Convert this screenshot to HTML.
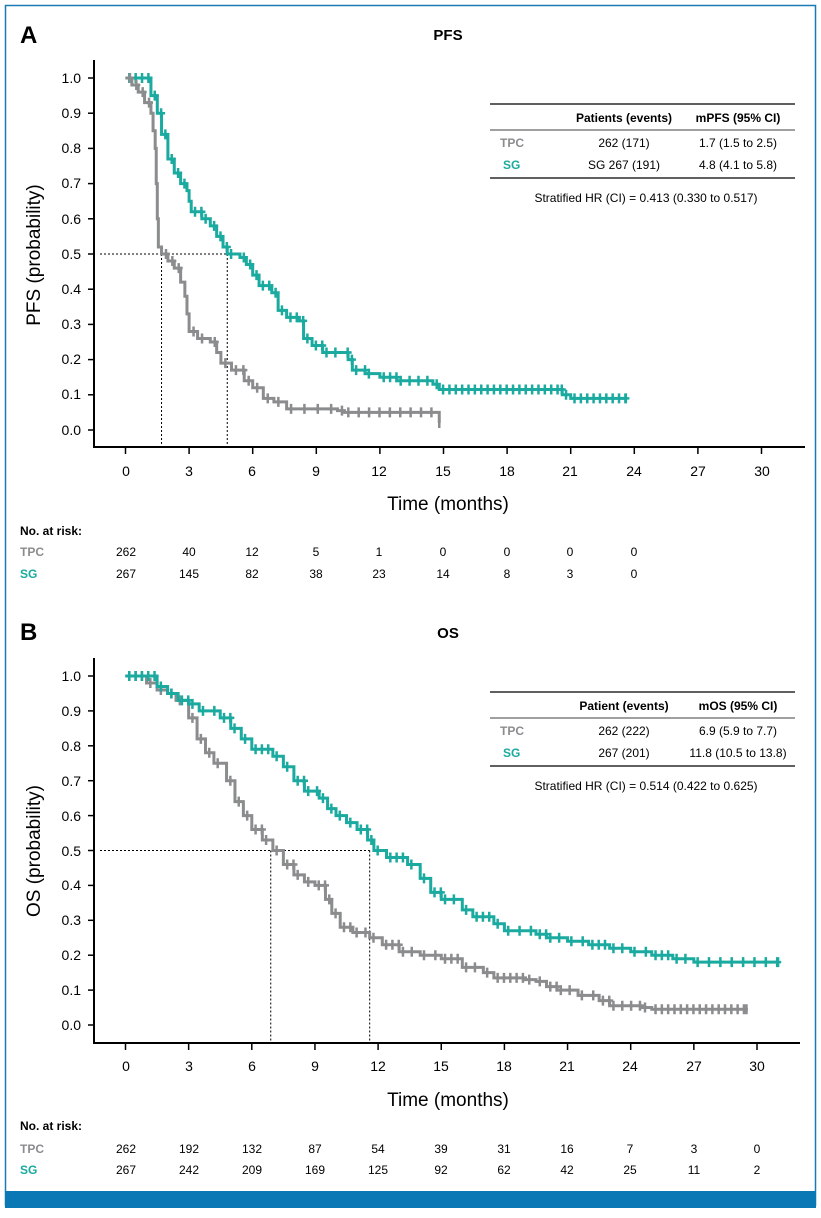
<!DOCTYPE html>
<html><head><meta charset="utf-8"><style>
body{margin:0;background:#fff;}
svg text{font-family:"Liberation Sans",Arial,sans-serif;}
</style></head><body>
<svg id="s" width="821" height="1213" xmlns="http://www.w3.org/2000/svg">
<rect x="5.5" y="5.5" width="810" height="1200" fill="none" stroke="#1a7ab5" stroke-width="1.5"/>
<rect x="5" y="1191" width="811" height="17" fill="#0a78b4"/>
<text x="20" y="43" font-size="24" font-weight="bold">A</text>
<text x="448" y="40" font-size="15" font-weight="bold" text-anchor="middle">PFS</text>
<text x="20" y="640" font-size="24" font-weight="bold">B</text>
<text x="448" y="638" font-size="15" font-weight="bold" text-anchor="middle">OS</text>
<g id="axes"></g>
<g id="curves"></g>
<!-- Table A -->
<g font-size="12">
<line x1="490" y1="104" x2="795" y2="104" stroke="#000" stroke-width="1.2"/>
<text x="624" y="122" text-anchor="middle" font-weight="bold">Patients (events)</text>
<text x="738" y="122" text-anchor="middle" font-weight="bold">mPFS (95% CI)</text>
<line x1="490" y1="130" x2="795" y2="130" stroke="#000" stroke-width="0.8"/>
<text x="500" y="147" font-weight="bold" fill="#8a8c8e">TPC</text>
<text x="624" y="147" text-anchor="middle">262 (171)</text>
<text x="738" y="147" text-anchor="middle">1.7 (1.5 to 2.5)</text>
<text x="503" y="169" font-weight="bold" fill="#1aaa9f">SG</text>
<text x="624" y="169" text-anchor="middle">SG 267 (191)</text>
<text x="738" y="169" text-anchor="middle">4.8 (4.1 to 5.8)</text>
<line x1="490" y1="178" x2="795" y2="178" stroke="#000" stroke-width="1.2"/>
<text x="646" y="202" text-anchor="middle">Stratified HR (CI) = 0.413 (0.330 to 0.517)</text>
</g>
<!-- Table B -->
<g font-size="12">
<line x1="490" y1="692" x2="795" y2="692" stroke="#000" stroke-width="1.2"/>
<text x="624" y="710" text-anchor="middle" font-weight="bold">Patient (events)</text>
<text x="738" y="710" text-anchor="middle" font-weight="bold">mOS (95% CI)</text>
<line x1="490" y1="718" x2="795" y2="718" stroke="#000" stroke-width="0.8"/>
<text x="500" y="735" font-weight="bold" fill="#8a8c8e">TPC</text>
<text x="624" y="735" text-anchor="middle">262 (222)</text>
<text x="738" y="735" text-anchor="middle">6.9 (5.9 to 7.7)</text>
<text x="503" y="757" font-weight="bold" fill="#1aaa9f">SG</text>
<text x="624" y="757" text-anchor="middle">267 (201)</text>
<text x="738" y="757" text-anchor="middle">11.8 (10.5 to 13.8)</text>
<line x1="490" y1="766" x2="795" y2="766" stroke="#000" stroke-width="1.2"/>
<text x="646" y="790" text-anchor="middle">Stratified HR (CI) = 0.514 (0.422 to 0.625)</text>
</g>
<text transform="translate(40,255) rotate(-90)" font-size="19" text-anchor="middle">PFS (probability)</text>
<text transform="translate(40,851) rotate(-90)" font-size="19" text-anchor="middle">OS (probability)</text>
<text x="448" y="510" font-size="19" text-anchor="middle">Time (months)</text>
<text x="448" y="1106" font-size="19" text-anchor="middle">Time (months)</text>
<g font-size="12">
<text x="20" y="535" font-weight="bold">No. at risk:</text>
<text x="20" y="556" font-weight="bold" fill="#8a8c8e">TPC</text>
<text x="20" y="578" font-weight="bold" fill="#1aaa9f">SG</text>
<g text-anchor="middle">
<text x="126" y="556">262</text><text x="189" y="556">40</text><text x="252" y="556">12</text><text x="316" y="556">5</text><text x="379" y="556">1</text><text x="443" y="556">0</text><text x="507" y="556">0</text><text x="570" y="556">0</text><text x="634" y="556">0</text>
<text x="126" y="578">267</text><text x="189" y="578">145</text><text x="252" y="578">82</text><text x="316" y="578">38</text><text x="379" y="578">23</text><text x="443" y="578">14</text><text x="507" y="578">8</text><text x="570" y="578">3</text><text x="634" y="578">0</text>
</g>
<text x="20" y="1130" font-weight="bold">No. at risk:</text>
<text x="20" y="1153" font-weight="bold" fill="#8a8c8e">TPC</text>
<text x="20" y="1174" font-weight="bold" fill="#1aaa9f">SG</text>
<g text-anchor="middle">
<text x="126" y="1153">262</text><text x="189" y="1153">192</text><text x="252" y="1153">132</text><text x="315" y="1153">87</text><text x="378" y="1153">54</text><text x="441" y="1153">39</text><text x="504" y="1153">31</text><text x="567" y="1153">16</text><text x="630" y="1153">7</text><text x="694" y="1153">3</text><text x="757" y="1153">0</text>
<text x="126" y="1174">267</text><text x="189" y="1174">242</text><text x="252" y="1174">209</text><text x="315" y="1174">169</text><text x="378" y="1174">125</text><text x="441" y="1174">92</text><text x="504" y="1174">62</text><text x="567" y="1174">42</text><text x="630" y="1174">25</text><text x="694" y="1174">11</text><text x="757" y="1174">2</text>
</g>
</g>
<g font-size="14" text-anchor="end">
<text x="81" y="83">1.0</text><text x="81" y="118">0.9</text><text x="81" y="153">0.8</text><text x="81" y="188">0.7</text><text x="81" y="224">0.6</text><text x="81" y="259">0.5</text><text x="81" y="294">0.4</text><text x="81" y="329">0.3</text><text x="81" y="364">0.2</text><text x="81" y="399">0.1</text><text x="81" y="435">0.0</text>
<text x="81" y="681">1.0</text><text x="81" y="716">0.9</text><text x="81" y="751">0.8</text><text x="81" y="786">0.7</text><text x="81" y="821">0.6</text><text x="81" y="856">0.5</text><text x="81" y="890">0.4</text><text x="81" y="925">0.3</text><text x="81" y="960">0.2</text><text x="81" y="995">0.1</text><text x="81" y="1030">0.0</text>
</g>
<g font-size="14" text-anchor="middle">
<text x="126" y="476">0</text><text x="189" y="476">3</text><text x="252" y="476">6</text><text x="316" y="476">9</text><text x="379" y="476">12</text><text x="443" y="476">15</text><text x="507" y="476">18</text><text x="570" y="476">21</text><text x="634" y="476">24</text><text x="698" y="476">27</text><text x="762" y="476">30</text>
<text x="126" y="1071">0</text><text x="189" y="1071">3</text><text x="252" y="1071">6</text><text x="315" y="1071">9</text><text x="378" y="1071">12</text><text x="441" y="1071">15</text><text x="504" y="1071">18</text><text x="567" y="1071">21</text><text x="630" y="1071">24</text><text x="694" y="1071">27</text><text x="757" y="1071">30</text>
</g>
</svg>
<script>
const NS="http://www.w3.org/2000/svg";
const ax=document.getElementById('axes'),cv=document.getElementById('curves');
function el(p,t,a){const e=document.createElementNS(NS,t);for(const k in a)e.setAttribute(k,a[k]);p.appendChild(e);return e;}
function panel(o){
 const X=t=>o.x0+t*o.dx, Y=p=>o.y0-p*o.dy;
 el(ax,'path',{d:`M94 ${o.top}V${o.axY}H${o.xend}`,fill:'none',stroke:'#000','stroke-width':2});
 for(let i=0;i<=10;i++){const y=Y(i/10);el(ax,'line',{x1:88,x2:94,y1:y,y2:y,stroke:'#000','stroke-width':1.5});}
 for(let t=0;t<=30;t+=3){const x=X(t);el(ax,'line',{x1:x,x2:x,y1:o.axY,y2:o.axY+7,stroke:'#000','stroke-width':1.5});}
 const dot={stroke:'#000','stroke-width':1,'stroke-dasharray':'2,2',fill:'none'};
 el(ax,'path',Object.assign({d:`M100 ${Y(.5)}H${X(o.m[1])}M${X(o.m[0])} ${Y(.5)}V${o.axY}M${X(o.m[1])} ${Y(.5)}V${o.axY}`},dot));
 for(const [data,col,cens] of o.series){
  let d=`M${X(data[0][0])} ${Y(data[0][1])}`;
  for(let i=1;i<data.length;i++){d+=`H${X(data[i][0])}V${Y(data[i][1])}`;}
  el(cv,'path',{d,fill:'none',stroke:col,'stroke-width':3});
  let marks='';
  for(let i=0;i<data.length-1;i++){
   const [t0,p]=data[i],t1=data[i+1][0];
   for(let t=t0+cens*0.6;t<t1;t+=cens*(1+((i*7)%3)*0.4)){marks+=`M${X(t)} ${Y(p)-5}v10M${X(t)-4} ${Y(p)}h8`;}
  }
  const l=data[data.length-1];marks+=`M${X(l[0])} ${Y(l[1])-5}v10`;
  el(cv,'path',{d:marks,stroke:col,'stroke-width':2.5,fill:'none'});
 }
}
const gray='#8a8c8e',teal='#1aaa9f';
panel({x0:125.5,dx:21.2,y0:430,dy:352,top:60,axY:447,xend:805,m:[1.7,4.8],series:[
 [[[0,1],[1.2,0.95],[1.5,0.9],[1.7,0.84],[2,0.77],[2.3,0.73],[2.6,0.7],[2.9,0.68],[3.0,0.65],[3.1,0.62],[3.6,0.6],[4.0,0.58],[4.3,0.55],[4.6,0.52],[4.8,0.5],[5.4,0.49],[5.7,0.47],[6.0,0.44],[6.3,0.41],[6.9,0.39],[7.2,0.34],[7.6,0.32],[8.2,0.31],[8.4,0.26],[8.8,0.24],[9.3,0.22],[10.3,0.22],[10.5,0.2],[10.7,0.17],[11.3,0.16],[12,0.15],[12.8,0.14],[14.5,0.13],[14.8,0.115],[20.4,0.115],[20.6,0.1],[21.0,0.09],[23.6,0.09]],teal,0.3],
 [[[0,1],[0.3,0.98],[0.6,0.96],[0.9,0.93],[1.2,0.9],[1.3,0.85],[1.4,0.8],[1.45,0.7],[1.5,0.6],[1.55,0.52],[1.7,0.5],[2.0,0.48],[2.3,0.46],[2.6,0.42],[2.8,0.38],[2.9,0.33],[3.0,0.28],[3.4,0.26],[4.0,0.25],[4.3,0.22],[4.5,0.19],[5.0,0.17],[5.6,0.14],[6.0,0.12],[6.5,0.09],[7.0,0.08],[7.6,0.06],[10,0.055],[10.3,0.05],[14.8,0.05],[14.8,0.02]],gray,0.35]
]});
panel({x0:125.5,dx:21.05,y0:1025,dy:349,top:658,axY:1043,xend:800,m:[6.9,11.6],series:[
 [[[0,1],[1,0.98],[1.5,0.96],[2,0.95],[2.4,0.93],[3,0.88],[3.4,0.82],[3.8,0.78],[4.2,0.75],[4.8,0.7],[5.2,0.64],[5.6,0.6],[6,0.56],[6.5,0.53],[7,0.5],[7.5,0.46],[8,0.43],[8.5,0.41],[9,0.4],[9.5,0.36],[9.8,0.32],[10.2,0.28],[10.8,0.265],[11.6,0.25],[12.2,0.23],[13,0.21],[14,0.2],[15,0.19],[16,0.165],[17,0.15],[17.5,0.135],[19,0.13],[19.5,0.125],[20,0.11],[20.5,0.1],[21.5,0.085],[22.5,0.07],[23,0.055],[24.5,0.05],[25,0.045],[29.5,0.045]],gray,0.3],
 [[[0,1],[1.5,0.97],[2,0.95],[2.5,0.93],[3,0.92],[3.5,0.9],[4.5,0.88],[5,0.85],[5.5,0.82],[6,0.79],[7,0.77],[7.5,0.74],[8,0.7],[8.5,0.67],[9.2,0.65],[9.6,0.62],[10,0.6],[10.5,0.58],[11,0.56],[11.5,0.53],[11.8,0.5],[12.4,0.48],[13.4,0.46],[14,0.42],[14.5,0.38],[15,0.36],[16,0.33],[16.5,0.31],[17.5,0.29],[18,0.27],[19.5,0.26],[20,0.25],[21,0.24],[22,0.23],[23,0.22],[24,0.21],[25,0.2],[26,0.19],[27,0.18],[31,0.18]],teal,0.3]
]});
</script>
</body></html>
